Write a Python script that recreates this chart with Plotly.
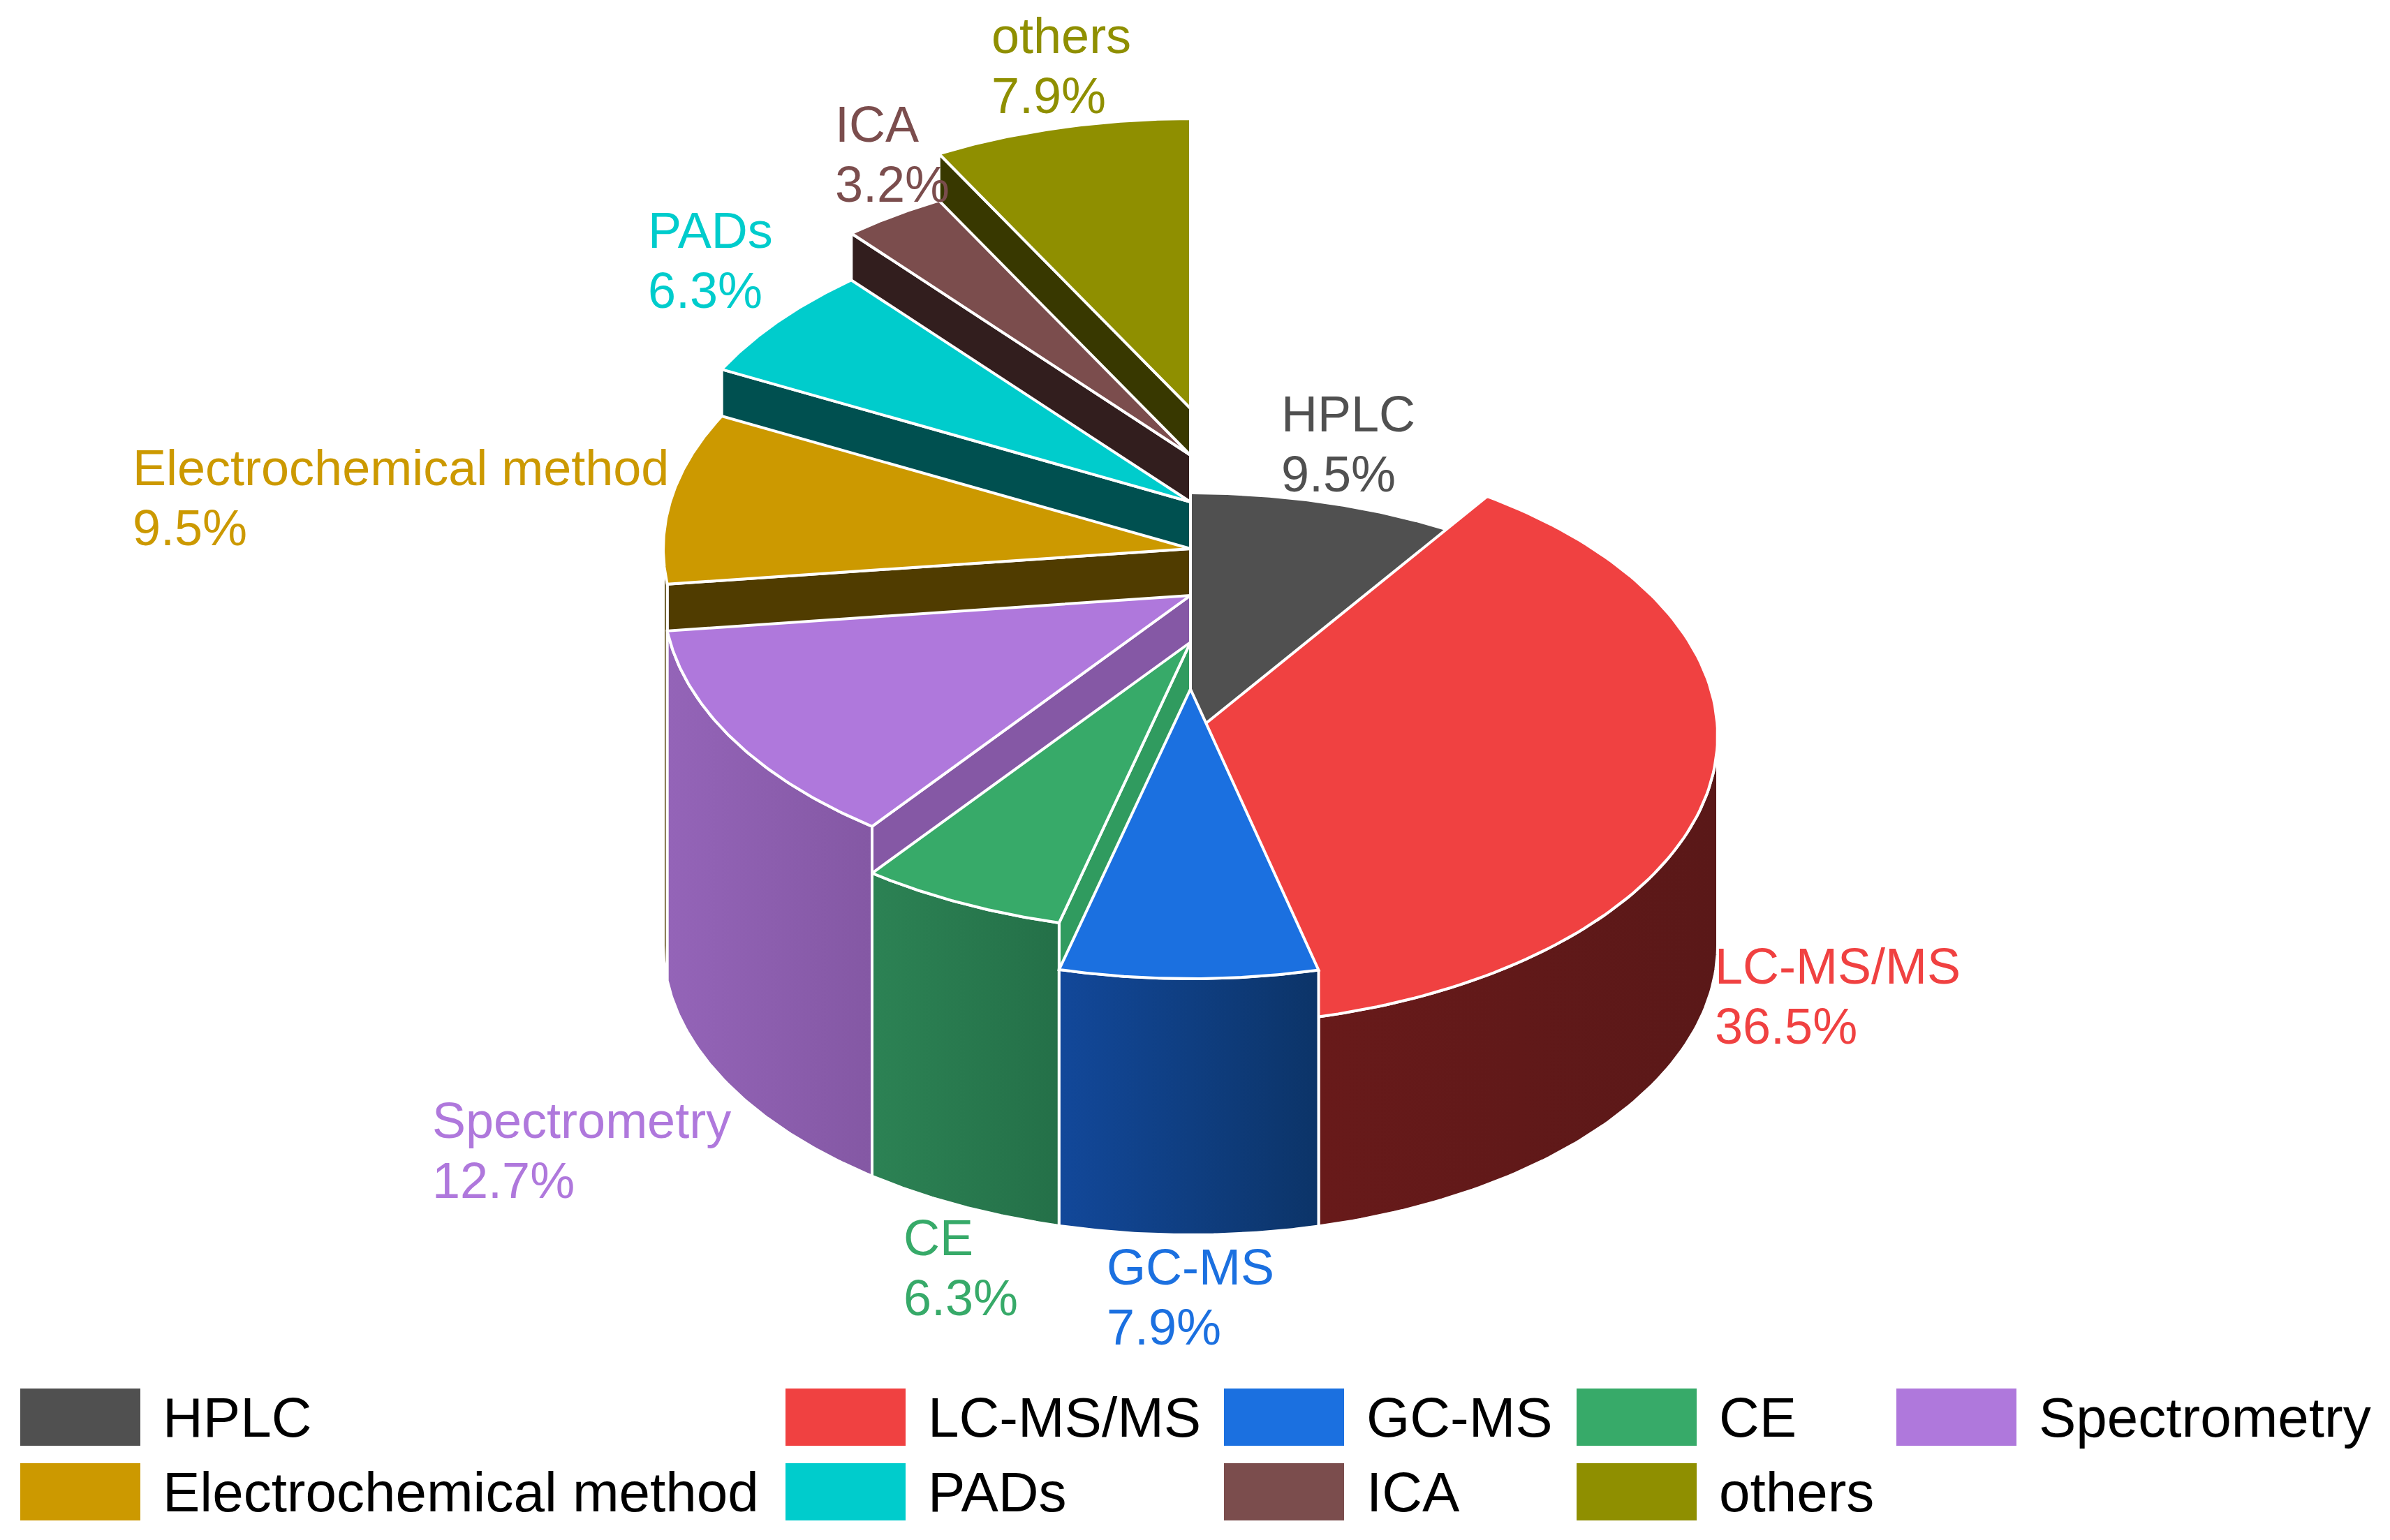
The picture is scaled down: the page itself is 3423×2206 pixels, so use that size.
import numpy as np
import plotly.graph_objects as go

# data
methods = ['HPLC', 'LC-MS/MS', 'GC-MS', 'CE', 'Spectrometry',
           'Electrochemical method', 'PADs', 'ICA', 'others']
shares = [9.5, 36.5, 7.9, 6.3, 12.7, 9.5, 6.3, 3.2, 7.9]

# styling
top_colors = ['#505050', '#F04141', '#1B70E0', '#37AA69', '#AF78DC',
              '#CC9900', '#00CCCC', '#7B4D4D', '#8F8F00']
side_left = ['#3a3a3a', '#681A1A', '#12489A', '#2C8254', '#9464B8',
             '#503C00', '#005050', '#321E1E', '#383800']
side_right = ['#2e2e2e', '#5A1818', '#0C3468', '#247048', '#8458A4',
              '#503C00', '#005050', '#321E1E', '#383800']
wall_colors = ['#3a3a3a', '#5A1818', '#0C3468', '#309B5F', '#8558A5',
               '#503C00', '#005050', '#321E1E', '#383800']

# page / pie geometry (screen pixels)
OFF = 8
W, H = 3407, 2190
CX, BASE_Y = 1705, 1354
RX, RY = 755, 415
H0, STEP = 233, 67
FONT = 'Liberation Sans, Arial, sans-serif'
LABEL_SIZE = 72
PITCH = 86

# rough Arial advance widths (em) to left-align the two label lines
CHAR_W = {'H': .722, 'P': .667, 'L': .556, 'C': .722, '-': .333, 'M': .833,
          'S': .667, '/': .278, 'G': .778, 'E': .667, 'A': .667, 'D': .722,
          'I': .278, ' ': .278, '.': .278, '%': .889, 'i': .222, 'l': .222,
          't': .278, 'r': .333, 'c': .5, 's': .5, 'y': .5, 'm': .833}


def text_w(s, size):
    return sum(CHAR_W.get(ch, .556) for ch in s) * size


def pt(cy, ang, r=1.0):
    a = np.radians(ang)
    return CX + r * RX * np.cos(a), cy - r * RY * np.sin(a)


total = sum(shares)
starts, ends = [], []
acc = 0.0
for s in shares:
    starts.append(90 - acc / total * 360)
    acc += s
    ends.append(90 - acc / total * 360)

tops = [BASE_Y - (H0 + STEP * i) for i in range(len(shares))]
mids = [(a + b) / 2 for a, b in zip(starts, ends)]

fig = go.Figure()
edge = dict(color='white', width=4)

# painter's order: far slices first
order = sorted(range(len(shares)), key=lambda i: -np.sin(np.radians(mids[i])))
for i in order:
    a0, a1, cy = starts[i], ends[i], tops[i]
    # radial wall on the start edge, if it faces the viewer
    if np.cos(np.radians(a0)) < -1e-6:
        ox, oy = pt(cy, a0)
        bx, by = pt(BASE_Y, a0)
        fig.add_trace(go.Scatter(x=[CX, ox, bx, CX, CX], y=[cy, oy, by, BASE_Y, cy],
                                 mode='lines', fill='toself', fillcolor=wall_colors[i],
                                 line=edge, hoverinfo='skip', showlegend=False))
    # outer curved side (front half only)
    lo, hi = max(a1, -180), min(a0, 0)
    if hi > lo:
        angs = np.linspace(hi, lo, 80)
        tx, ty = pt(cy, angs)
        bx, by = pt(BASE_Y, angs)
        xs = np.concatenate([tx, bx[::-1], tx[:1]])
        ys = np.concatenate([ty, by[::-1], ty[:1]])
        fig.add_trace(go.Scatter(x=xs, y=ys, mode='lines', fill='toself',
                                 fillgradient=dict(type='horizontal',
                                                   colorscale=[[0, side_left[i]], [1, side_right[i]]]),
                                 line=edge, hoverinfo='skip', showlegend=False))
    # top face
    angs = np.linspace(a0, a1, 120)
    ax, ay = pt(cy, angs)
    fig.add_trace(go.Scatter(x=np.concatenate([[CX], ax, [CX]]),
                             y=np.concatenate([[cy], ay, [cy]]),
                             mode='lines', fill='toself', fillcolor=top_colors[i],
                             line=edge, hoverinfo='skip', showlegend=False))

annotations = []
# slice labels: name over percentage, left-aligned block placed outside the slice
for i, name in enumerate(methods):
    m = mids[i]
    c, s = np.cos(np.radians(m)), np.sin(np.radians(m))
    lx, ly = pt(tops[i] if s >= 0 else BASE_Y, m)
    lx += 6 * c
    ly -= 4 * s
    pct = '{}%'.format(shares[i])
    bw = max(text_w(name, LABEL_SIZE), text_w(pct, LABEL_SIZE))
    frac = 0 if c > 0.7 else (1 if c < -0.7 else 0.5)
    left = lx - frac * bw
    if s > 0.3:
        ys, ya = [ly - PITCH, ly], 'bottom'
    elif s < -0.3:
        ys, ya = [ly, ly + PITCH], 'top'
    else:
        ys, ya = [ly - PITCH / 2, ly + PITCH / 2], 'middle'
    for txt, yy in zip([name, pct], ys):
        annotations.append(dict(x=left, y=yy, xref='x', yref='y', showarrow=False,
                                text=txt, xanchor='left', yanchor=ya,
                                font=dict(family=FONT, size=LABEL_SIZE, color=top_colors[i])))

# legend (two rows, five columns)
leg_cols = [29, 1125, 1753, 2258, 2716]
leg_rows = [1989, 2096]
sw_w, sw_h = 172, 82
shapes = []
for k, name in enumerate(methods):
    r, col = divmod(k, 5)
    x0, y0 = leg_cols[col], leg_rows[r]
    shapes.append(dict(type='rect', xref='x', yref='y', x0=x0, x1=x0 + sw_w,
                       y0=y0, y1=y0 + sw_h, fillcolor=top_colors[k], line=dict(width=0)))
    annotations.append(dict(x=x0 + sw_w + 30, y=y0 + sw_h / 2, xref='x', yref='y',
                            showarrow=False, text=name, xanchor='left', yanchor='middle',
                            font=dict(family=FONT, size=80, color='black')))

fig.update_layout(
    width=W, height=H,
    margin=dict(l=0, r=0, t=0, b=0),
    paper_bgcolor='white', plot_bgcolor='white',
    xaxis=dict(range=[OFF, OFF + W], visible=False, fixedrange=True),
    yaxis=dict(range=[OFF + H, OFF], visible=False, fixedrange=True),
    annotations=annotations, shapes=shapes,
    showlegend=False,
)

fig.write_html('out.html')
